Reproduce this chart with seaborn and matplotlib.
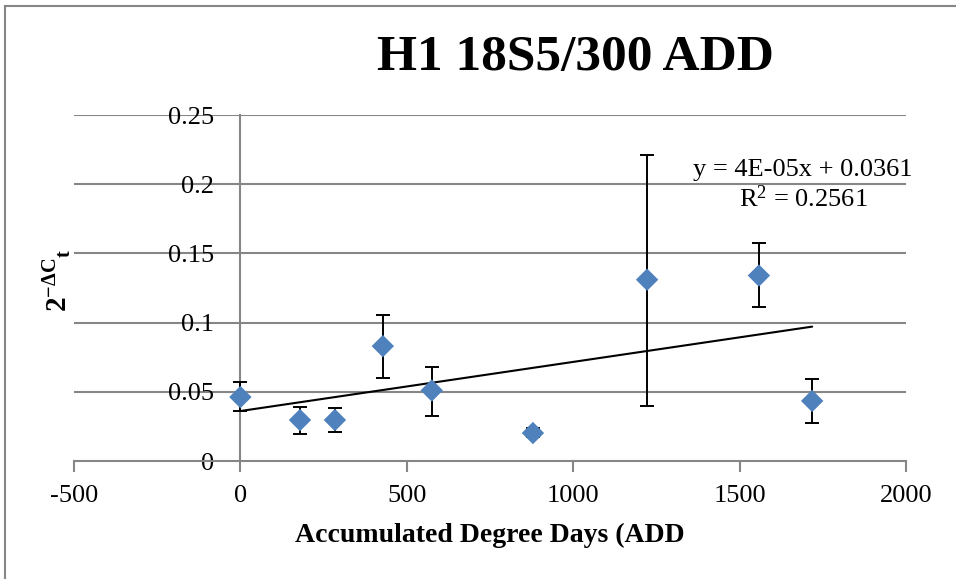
import numpy as np
import pandas as pd
import matplotlib
matplotlib.use("Agg")
import matplotlib.pyplot as plt
import seaborn as sns
from matplotlib.patches import Rectangle

# Data
add_days = [0, 179, 284, 428, 575, 879, 1222, 1558, 1718]
expr = [0.0462, 0.0296, 0.0296, 0.083, 0.051, 0.0202, 0.131, 0.134, 0.0434]
err_upper = [0.057, 0.039, 0.038, 0.1055, 0.068, 0.0235, 0.221, 0.1575, 0.059]
err_lower = [0.036, 0.0195, 0.021, 0.060, 0.0325, 0.017, 0.040, 0.111, 0.0275]
trend_slope = 3.55e-05
trend_intercept = 0.0361
x_ticks = [-500, 0, 500, 1000, 1500, 2000]
y_ticks = [0, 0.05, 0.1, 0.15, 0.2, 0.25]
y_tick_labels = ["0", "0.05", "0.1", "0.15", "0.2", "0.25"]
title = "H1 18S5/300 ADD"
xlabel = "Accumulated Degree Days (ADD"
eq_text = "y = 4E-05x + 0.0361"
r2_text = "R$^2$ = 0.2561"

df = pd.DataFrame({"ADD": add_days, "expr": expr})

sns.set_theme(style="white")
plt.rcParams["font.family"] = ["Liberation Serif", "DejaVu Serif"]
plt.rcParams["text.color"] = "black"
plt.rcParams["xtick.color"] = "black"
plt.rcParams["ytick.color"] = "black"
plt.rcParams["mathtext.fontset"] = "custom"
plt.rcParams["mathtext.rm"] = "Liberation Serif"
plt.rcParams["mathtext.it"] = "Liberation Serif"
plt.rcParams["mathtext.bf"] = "Liberation Serif:bold"

W, H = 956, 579
fig = plt.figure(figsize=(W / 100, H / 100), dpi=100)
ax = fig.add_axes([74 / W, 1 - 461 / H, (906 - 74) / W, (461 - 115) / H])

grid_c = "#868686"
for yv in y_ticks[1:]:
    ax.axhline(yv, color=grid_c, lw=1.5, zorder=0)

# trend line
xt = np.array([0, max(add_days)])
ax.plot(xt, trend_intercept + trend_slope * xt, color="black", lw=1.5, zorder=2)

# error bars
e = np.array(expr)
ax.errorbar(add_days, expr,
            yerr=[e - np.array(err_lower), np.array(err_upper) - e],
            fmt="none", ecolor="black", elinewidth=1.4, capsize=5,
            capthick=1.4, zorder=3)

sns.scatterplot(data=df, x="ADD", y="expr", marker="D", s=130,
                color="#4F81BD", edgecolor="none", ax=ax, zorder=4)

ax.set_xlim(-500, 2000)
ax.set_ylim(0, 0.25)
ax.set_xticks(x_ticks)
ax.set_xticklabels([str(v) for v in x_ticks])
ax.set_yticks(y_ticks)
ax.set_yticklabels(y_tick_labels)

for s in ["top", "right"]:
    ax.spines[s].set_visible(False)
ax.spines["left"].set_position(("data", 0))
ax.spines["left"].set_color(grid_c)
ax.spines["left"].set_linewidth(1.5)
ax.spines["bottom"].set_color(grid_c)
ax.spines["bottom"].set_linewidth(1.5)
ax.tick_params(axis="x", direction="out", length=8, width=1.5, color=grid_c,
               labelsize=19, labelcolor="black", pad=9, bottom=True)
ax.tick_params(axis="y", length=0, labelsize=19, labelcolor="black", pad=19, left=True)
for lbl in ax.get_yticklabels():
    lbl.set_zorder(5)

ax.set_xlabel("")
ax.set_ylabel("")

fig.text(575 / W, 1 - 58 / H, title, fontsize=37, fontweight="bold",
         ha="center", va="center", color="black")
fig.text(490 / W, 1 - 535 / H, xlabel, fontsize=20, fontweight="bold",
         ha="center", va="center", color="black")
fig.text(58 / W, 1 - 280 / H, r"$\mathbf{2^{-\Delta C}{}_{t}}$", fontsize=21,
         rotation=90, ha="center", va="center", color="black")

fig.text(803 / W, 1 - 170 / H, eq_text, fontsize=19, ha="center", va="center",
         color="black")
fig.text(803 / W, 1 - 199 / H, r2_text, fontsize=19, ha="center", va="center",
         color="black")

fig.patches.append(Rectangle((5 / W, -0.2), 1.2, 1.2 - 6 / H, transform=fig.transFigure,
                             fill=False, edgecolor=grid_c, lw=1.5))

fig.savefig("out.png", dpi=100)
